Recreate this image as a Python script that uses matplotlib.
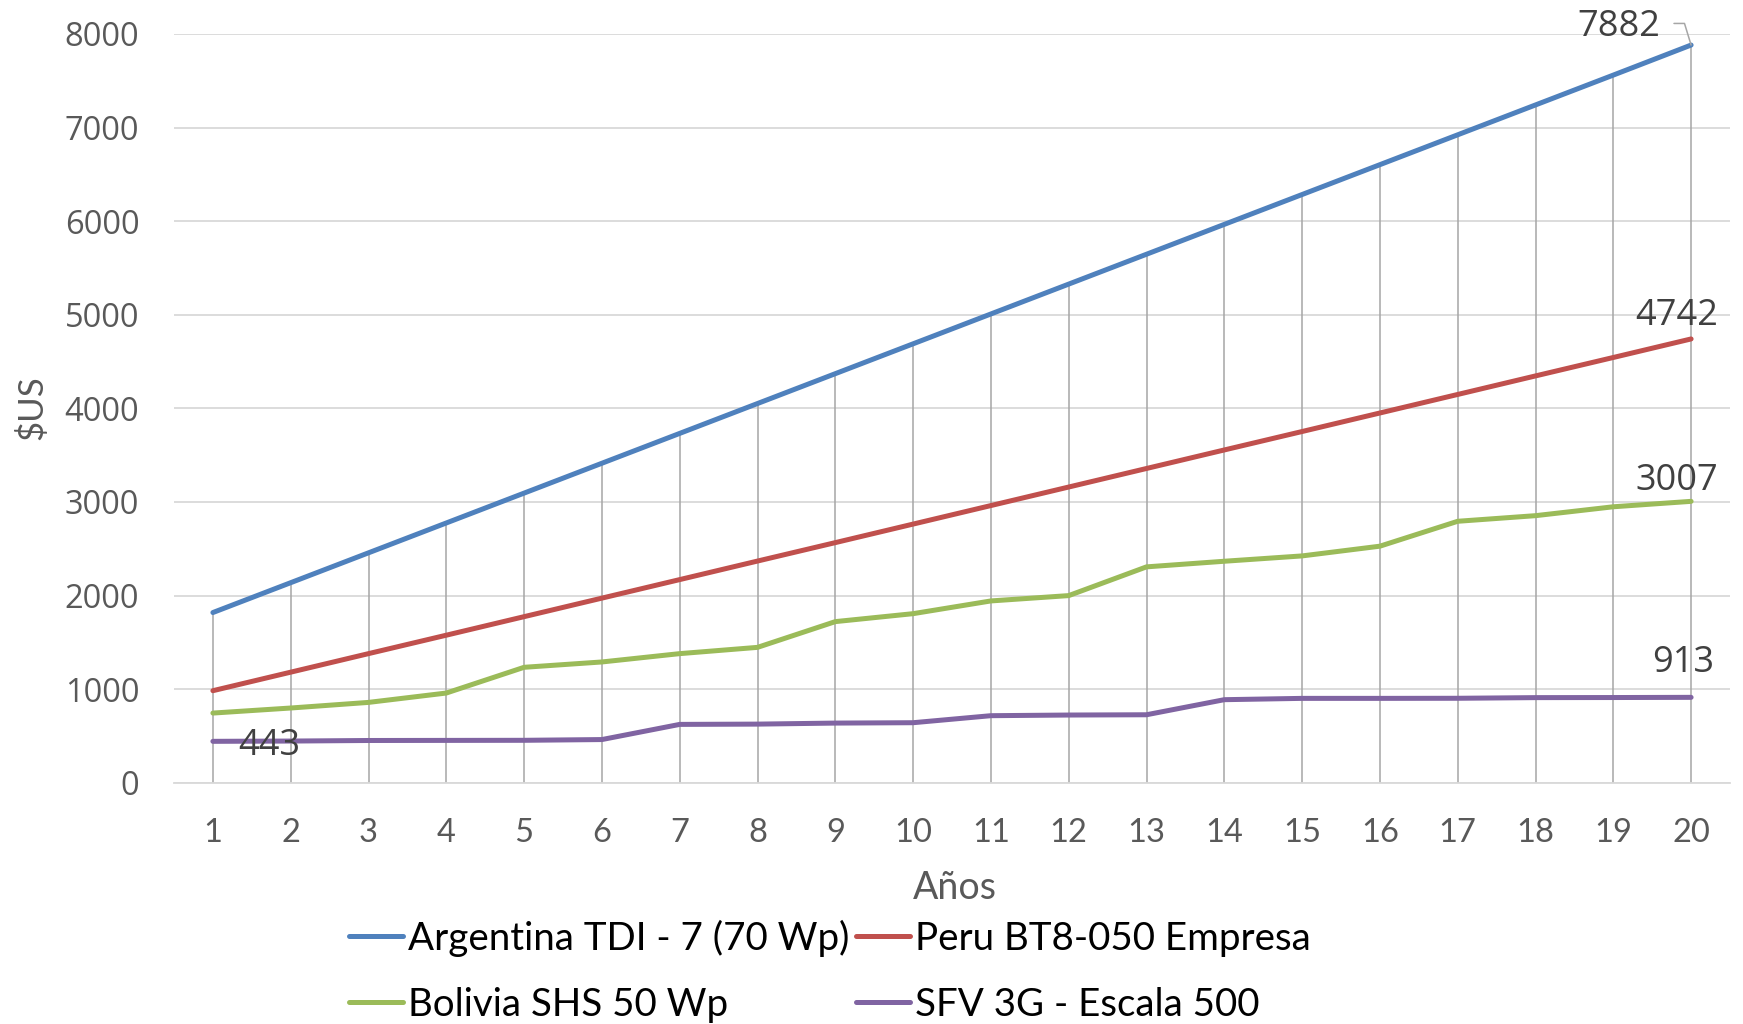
import matplotlib.pyplot as plt

# costo acumulado por año de cada sistema
years = list(range(1, 21))
argentina = [1819, 2138, 2457, 2776, 3095, 3414, 3733, 4052, 4371, 4690,
             5009, 5328, 5647, 5966, 6285, 6604, 6923, 7242, 7561, 7882]
peru = [984, 1182, 1380, 1577, 1775, 1973, 2171, 2369, 2566, 2764,
        2962, 3160, 3358, 3556, 3753, 3951, 4149, 4347, 4544, 4742]
bolivia = [745, 799, 859, 959, 1234, 1291, 1380, 1447, 1722, 1807,
           1943, 2000, 2307, 2367, 2424, 2528, 2794, 2854, 2949, 3007]
sfv = [443, 446, 452, 453, 454, 462, 624, 627, 638, 642,
       717, 724, 727, 888, 902, 902, 903, 910, 911, 913]

names = ["Argentina TDI - 7 (70 Wp)", "Peru BT8-050 Empresa",
         "Bolivia SHS 50 Wp", "SFV 3G - Escala 500"]
colors = ["#4F81BD", "#C0504D", "#9BBB59", "#8064A2"]
yticks = [0, 1000, 2000, 3000, 4000, 5000, 6000, 7000, 8000]

body_font = "Lato"
num_font = "Open Sans"

fig = plt.figure(figsize=(17.43, 10.24), dpi=100)
ax = fig.add_axes([174 / 1743, 1 - 782.8 / 1024, 1556 / 1743, 748.8 / 1024])

# lineas de caida hasta la serie mas alta
ax.vlines(years, 0, argentina, color="#A6A6A6", lw=1.1, zorder=2)

handles = []
for vals, name, c in zip([argentina, peru, bolivia, sfv], names, colors):
    h, = ax.plot(years, vals, color=c, lw=3.6, solid_capstyle="round",
                 solid_joinstyle="round", zorder=3, label=name)
    handles.append(h)

ax.set_xlim(0.5, 20.5)
ax.set_ylim(0, 8000)
ax.set_xticks(years)
ax.set_yticks(yticks)
ax.yaxis.grid(True, color="#D9D9D9", lw=1.3, zorder=0)
ax.set_axisbelow(True)
for s in ["top", "right", "left"]:
    ax.spines[s].set_visible(False)
ax.spines["bottom"].set_color("#D9D9D9")
ax.spines["bottom"].set_linewidth(1.3)
ax.tick_params(axis="both", length=0, colors="#595959")
ax.tick_params(axis="y", pad=25)
ax.tick_params(axis="x", pad=25)
for t in ax.get_yticklabels():
    t.set_fontfamily(num_font)
    t.set_fontsize(23.5)
for t in ax.get_xticklabels():
    t.set_fontfamily(body_font)
    t.set_fontsize(23.5)

fig.text(955 / 1743, 1 - 888 / 1024, "Años", ha="center", va="center",
         fontsize=27, family=body_font, color="#595959")
fig.text(32 / 1743, 1 - 408 / 1024, "$US", ha="center", va="center",
         rotation=90, fontsize=25, family=body_font, color="#595959")

lab = dict(fontsize=26, family=num_font, color="#404040",
           textcoords="offset pixels", annotation_clip=False)
ax.annotate(f"{argentina[-1]}", (years[-1], argentina[-1]), xytext=(-31, 18),
            ha="right", va="center",
            arrowprops=dict(arrowstyle="-", color="#A6A6A6", lw=1.1,
                            relpos=(1, 0.6), shrinkA=8, shrinkB=0,
                            connectionstyle="angle,angleA=0,angleB=107,rad=0"),
            **lab)
ax.annotate(f"{peru[-1]}", (years[-1], peru[-1]), xytext=(-14, 23),
            ha="center", va="center", **lab)
ax.annotate(f"{bolivia[-1]}", (years[-1], bolivia[-1]), xytext=(-14, 20),
            ha="center", va="center", **lab)
ax.annotate(f"{sfv[-1]}", (years[-1], sfv[-1]), xytext=(-8, 34),
            ha="center", va="center", **lab)
ax.annotate(f"{sfv[0]}", (years[0], sfv[0]), xytext=(25, -5),
            ha="left", va="center", **lab)

order = [handles[0], handles[2], handles[1], handles[3]]
fig.legend(order, [h.get_label() for h in order], ncol=2,
           loc="center", bbox_to_anchor=(830 / 1743, 1 - 971 / 1024),
           frameon=False, prop=dict(family=body_font, size=27.7),
           handlelength=1.4, handletextpad=0.12, columnspacing=0.18,
           labelspacing=0.78, borderpad=0, borderaxespad=0)

fig.savefig("out.png", dpi=100, facecolor="white")
